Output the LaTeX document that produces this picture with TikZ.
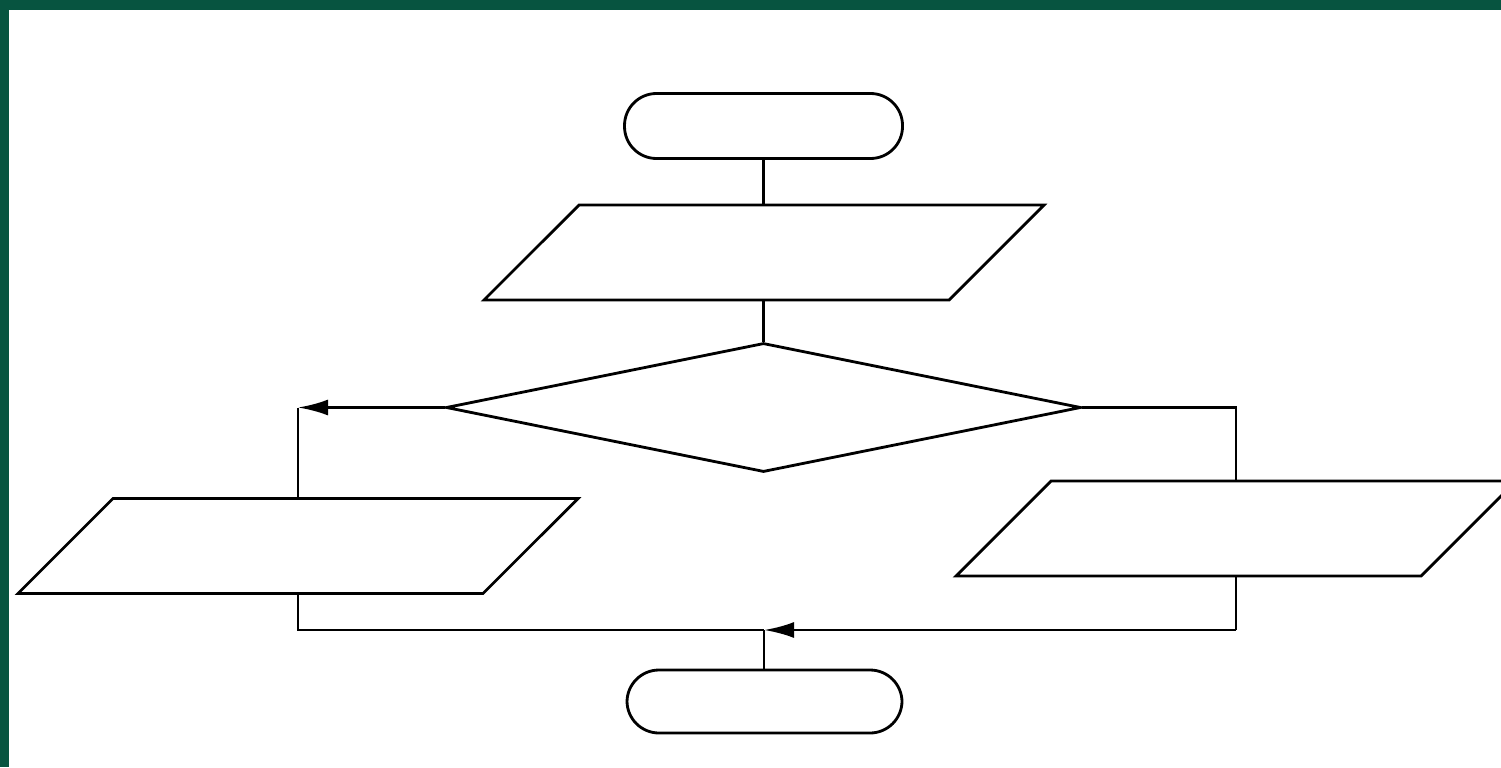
\documentclass[tikz,border=0pt]{standalone}
\usepackage{tikz}
\usetikzlibrary{shapes.geometric,arrows.meta}
\definecolor{framegreen}{RGB}{7,84,64}
\tikzset{
  term/.style={draw, thick, rectangle, rounded corners=0.32cm, minimum width=2.78cm, minimum height=0.65cm, inner sep=0pt},
  inout/.style={draw, thick, trapezium, trapezium left angle=45, trapezium right angle=135, trapezium stretches body, text height=0.95cm, text depth=0pt, minimum width=5.6cm, inner sep=0pt},
  cond/.style={draw, thick, diamond, minimum width=6.35cm, minimum height=1.29cm, inner sep=0pt},
  flow/.style={thick},
  arr/.style={thick, -{Latex[length=3mm,width=1.6mm]}}
}

\begin{document}
\begin{tikzpicture}
    \useasboundingbox (0,0) rectangle (15.01,7.67);
    \fill[framegreen] (0,0) rectangle (0.09,7.67);
    \fill[framegreen] (0,7.57) rectangle (15.01,7.67);

    \node[term] (start) at (7.635, 6.41) {};
    \node[inout] (in1) at (7.64, 5.145) {};
    \node[cond] (dec) at (7.635, 3.595) {};
    \node[inout] (outl) at (2.98, 2.21) {};
    \node[inout] (outr) at (12.36, 2.385) {};
    \node[term, minimum width=2.75cm, minimum height=0.63cm] (stop) at (7.645, 0.655) {};
    \coordinate (join) at (7.64, 1.37);

    \draw[flow] (start.south) -- (start.south |- in1.north);
    \draw[flow] (start.south |- in1.south) -- (dec.north);

    \draw[arr] (dec.west) -- (outl.north |- dec.west);
    \draw[flow] (outl.north |- dec.west) -- (outl.north);
    \draw[flow] (dec.east) -| (outr.north);

    \draw[flow] (outl.south) |- (join);
    \draw[flow] (outr.south) -- (outr.south |- join);
    \draw[arr] (outr.south |- join) -- (join);
    \draw[flow] (join) -- (join |- stop.north);
\end{tikzpicture}
\end{document}
